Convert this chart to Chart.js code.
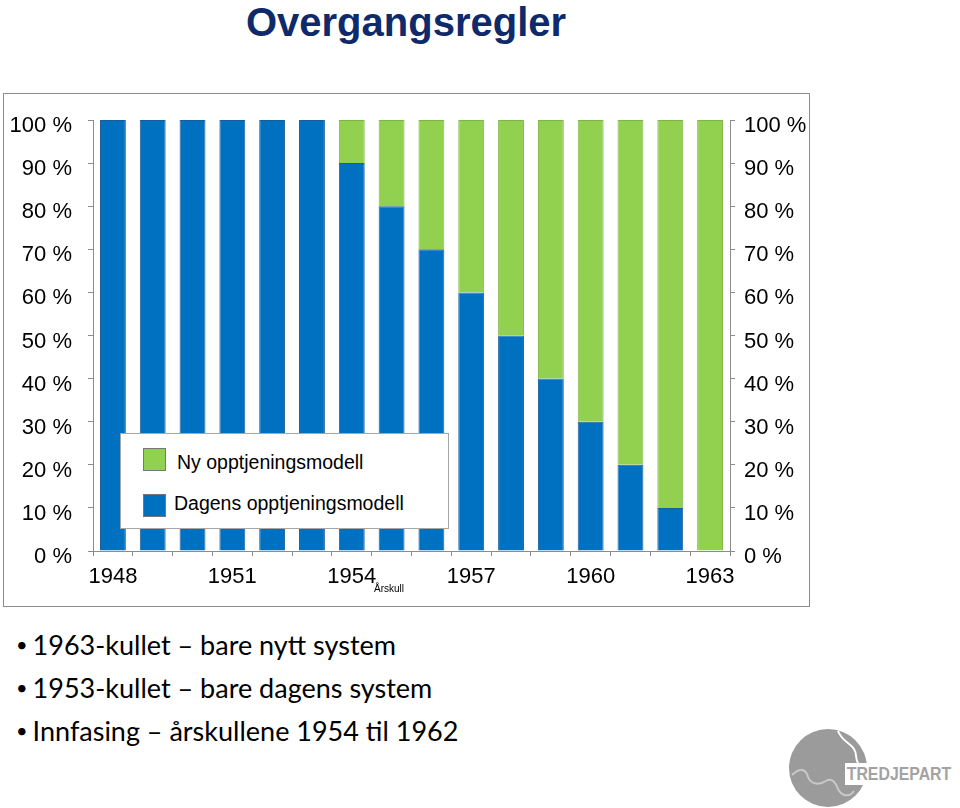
<!DOCTYPE html>
<html>
<head>
<meta charset="utf-8">
<script src="https://cdn.jsdelivr.net/npm/chart.js@4"></script>
<style>
  body { margin: 0; width: 960px; height: 808px; background: #fff; position: relative; overflow: hidden; font-family: "Liberation Sans", Arial, sans-serif; }
  #title { position: absolute; left: 0; width: 812px; top: 0; text-align: center; font-weight: bold; font-size: 40px; color: #0f2a6b; line-height: 44px; }
  #frame { position: absolute; left: 3px; top: 93px; width: 805px; height: 512px; border: 1px solid #8c8c8c; }
  #frame canvas { position: absolute; left: 0; top: 0; }
  #legend { position: absolute; left: 116px; top: 339px; width: 327px; height: 94px; background: #fff; border: 1px solid #a6a6a6; }
  .lg { position: absolute; left: 22px; font-size: 19.5px; color: #000; white-space: nowrap; }
  .lg i { position: absolute; left: 0; top: 0; width: 23px; height: 23px; box-sizing: border-box; border: 1px solid #777; }
  .lg span { position: absolute; top: 0; }
  #arskull { position: absolute; left: 370px; top: 489px; font-size: 10px; color: #000; }
  #bullets { position: absolute; left: 16px; top: 623px; font-family: Lato, "Open Sans", sans-serif; font-size: 27px; color: #000; }
  #bullets div { white-space: nowrap; height: 43px; line-height: 43px; }
  #bullets div:before { content: "\2022"; font-size: 20px; position: relative; top: -3px; margin-right: 5px; }
  #logo { position: absolute; left: 788px; top: 727px; }
  #logotext { position: absolute; left: 845px; top: 763px; font-weight: bold; font-size: 18px; color: #a3a3a3; background: #fff; padding-left: 2px; line-height: 22px; transform: scaleX(0.88); transform-origin: left center; }
</style>
</head>
<body>
<div id="title">Overgangsregler</div>
<div id="frame">
  <canvas id="c" width="805" height="512"></canvas>
  <div id="legend"></div>
  <div id="arskull">Årskull</div>
</div>
<div id="bullets">
  <div>1963-kullet – bare nytt system</div>
  <div>1953-kullet – bare dagens system</div>
  <div>Innfasing – årskullene 1954 til 1962</div>
</div>
<svg id="logo" width="84" height="84" viewBox="0 0 84 84">
  <circle cx="40" cy="41" r="39" fill="#9b9b9b"/>
  <path d="M4 48 C12 40 18 42 20 50 C23 58 32 58 38 54 C44 50 48 56 50 62 C54 70 62 70 66 64" fill="none" stroke="#c8c8c8" stroke-width="2"/>
  <path d="M50 4 C54 14 62 16 66 22 C70 28 66 34 72 38" fill="none" stroke="#fff" stroke-width="2"/>
</svg>
<div id="logotext">TREDJEPART</div>
<script>
// årskull and andel per modell (prosent)
var years = ['1948','1949','1950','1951','1952','1953','1954','1955','1956','1957','1958','1959','1960','1961','1962','1963'];
var dagens = [100,100,100,100,100,100,90,80,70,60,50,40,30,20,10,0];
var ny = [0,0,0,0,0,0,10,20,30,40,50,60,70,80,90,100];
var pctTicks = [0,10,20,30,40,50,60,70,80,90,100];

var BLUE = '#0070c0', GREEN = '#92d050';
var tickFont = { family: 'Liberation Sans', size: 22 };

function pctAxis(pos) {
    return {
        position: pos,
        min: 0, max: 100,
        stacked: pos == 'left',
        afterBuildTicks: function (s) { s.ticks = pctTicks.map(function (v) { return { value: v }; }); },
        afterFit: function (s) {
            s.width = pos == 'left' ? 89 : 79;
            s.paddingTop = 0;
            s.paddingBottom = 0;
        },
        border: { display: true, color: '#8c8c8c' },
        grid: { drawOnChartArea: false, tickLength: 5, color: '#8c8c8c' },
        ticks: {
            color: '#000', font: tickFont, labelOffset: 6,
            padding: pos == 'left' ? 16 : 9,
            callback: function (v) { return v + ' %'; }
        }
    };
}

var chart = new Chart(document.getElementById('c'), {
    type: 'bar',
    data: {
        labels: years,
        datasets: [
            { label: 'Dagens opptjeningsmodell', data: dagens, backgroundColor: BLUE, borderColor: '#1a5e99', borderWidth: 1, yAxisID: 'y' },
            { label: 'Ny opptjeningsmodell', data: ny, backgroundColor: GREEN, borderColor: '#7fb545', borderWidth: 1, yAxisID: 'y' }
        ]
    },
    options: {
        responsive: false,
        animation: false,
        layout: { padding: { top: 26, left: 0, right: 0, bottom: 0 } },
        datasets: { bar: { categoryPercentage: 1, barPercentage: 0.65 } },
        plugins: { legend: { display: false }, tooltip: { enabled: false } },
        scales: {
            x: {
                stacked: true,
                afterFit: function (s) { s.height = 55; },
                border: { display: true, color: '#8c8c8c' },
                grid: { drawOnChartArea: false, offset: true, tickLength: 5, color: '#8c8c8c' },
                ticks: {
                    color: '#000', font: tickFont, autoSkip: false, maxRotation: 0, padding: 8,
                    callback: function (v, i) { return i % 3 == 0 ? years[i] : ''; }
                }
            },
            y: pctAxis('left'),
            y2: pctAxis('right')
        }
    }
});

/*
** Legend box, top entry first (same order as the stack)
*/
var lg = document.getElementById('legend');
chart.data.datasets.slice().reverse().forEach(function (ds, i) {
    var d = document.createElement('div');
    d.className = 'lg';
    d.style.top = (14 + i * 46) + 'px';
    var txt = i == 0 ? 'left:34px;top:3px' : 'left:31px;top:-2px';
    d.innerHTML = '<i style="background:' + ds.backgroundColor + '"></i><span style="' + txt + '">' + ds.label + '</span>';
    lg.appendChild(d);
});
</script>
</body>
</html>
